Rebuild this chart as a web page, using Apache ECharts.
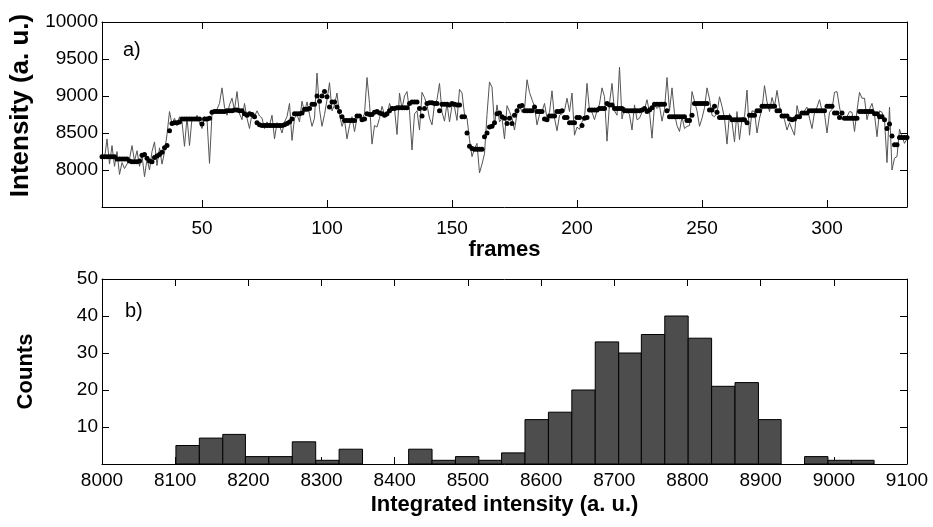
<!DOCTYPE html>
<html>
<head>
<meta charset="utf-8">
<script src="https://cdn.jsdelivr.net/npm/echarts@6/dist/echarts.min.js"></script>
<style>
    body { margin: 0; background: #fff; }
    #chart { width: 933px; height: 527px; }
</style>
</head>
<body>
<div id="chart"></div>
<script>
    // panel a) : frames 10..332
    var firstFrame = 10;
    var intensityRaw = [
        8200,8150,8420,8080,8330,8050,8250,7940,8100,8020,
        8080,8150,8330,8120,8260,8050,8200,7910,8150,8000,
        8250,8380,8060,8300,8080,8240,8480,8790,8620,8700,
        8600,8720,8650,8320,8710,8330,8700,8680,8740,8640,
        8560,8720,8680,8090,8760,8800,8820,8900,9110,8850,
        8740,8880,8970,8810,9060,8760,8680,8900,8700,8560,
        8760,8720,8800,8730,8700,8560,8650,8600,8740,8420,
        8640,8600,8500,8650,8720,8900,8400,8700,8750,8650,
        8930,8780,8920,8750,8590,8700,9310,8820,8590,8750,
        8950,9180,8800,8880,9040,8750,8590,8680,8420,8600,
        8720,8520,8700,8740,8690,8760,9250,8900,8350,8600,
        8580,8700,8860,8750,8720,8900,8800,8830,8480,9040,
        8830,9000,9060,8800,8270,8760,8800,8540,9050,8980,
        8880,8700,8610,8890,8950,9170,8780,8660,8900,8650,
        8870,8850,8670,9090,9040,8750,8700,8410,8180,8290,
        8360,7960,8080,8220,8750,9190,9120,8600,8880,8650,
        8700,8420,8870,8790,8700,8540,8760,8880,8780,8820,
        9220,9050,8950,8860,8610,8750,8790,8900,8700,8780,
        9070,8700,8530,8740,8760,8800,8970,8790,9040,8470,
        8580,8550,8650,8700,9170,8800,8780,8680,8800,8890,
        9110,8990,8390,8900,9170,8800,8740,9390,8690,8850,
        8790,8750,8540,8880,8680,8700,8780,8820,8950,8780,
        8430,8880,8830,8870,8660,8820,9250,8800,9110,8760,
        8600,8520,8720,8560,8590,8600,9060,8930,8800,8590,
        8700,8840,9110,8960,8740,8720,8770,8990,8860,8700,
        8350,8760,8650,8380,8790,8410,8700,8720,9080,8470,
        8800,8790,8500,8700,8820,9140,8920,8790,8980,8860,
        9075,8860,8750,8680,8540,8640,8550,8470,8870,8730,
        8760,8800,8850,8700,8560,8780,8850,8950,8800,8760,
        8500,8780,8820,9050,9060,8850,8680,8700,8720,8790,
        8780,8520,8800,9050,8970,8970,8680,8820,8900,8750,
        8450,8800,8780,8680,8100,8850,8000,8160,8180,8550,
        8450,8360,8420
    ];
    var intensityFit = [
        8180,8180,8180,8180,8180,8180,8150,8150,8150,8150,
        8150,8120,8110,8110,8110,8120,8200,8210,8160,8120,
        8110,8170,8190,8210,8240,8300,8330,8530,8630,8640,
        8640,8650,8690,8690,8690,8690,8690,8690,8690,8690,
        8620,8690,8690,8700,8780,8790,8790,8790,8790,8790,
        8800,8800,8800,8810,8810,8800,8800,8760,8740,8760,
        8750,8720,8640,8610,8600,8600,8600,8600,8600,8600,
        8600,8600,8600,8610,8630,8650,8690,8760,8760,8760,
        8770,8820,8820,8830,8890,8890,9000,8930,9000,9060,
        8990,8850,8920,8920,8850,8790,8720,8670,8670,8670,
        8670,8670,8730,8730,8680,8690,8760,8750,8750,8780,
        8790,8770,8760,8740,8760,8800,8830,8830,8840,8840,
        8840,8840,8840,8900,8920,8920,8920,8830,8730,8830,
        8900,8910,8910,8900,8900,8800,8890,8890,8890,8880,
        8900,8890,8880,8880,8720,8720,8500,8320,8290,8280,
        8280,8280,8280,8450,8500,8580,8590,8640,8760,8770,
        8720,8700,8630,8700,8630,8740,8800,8860,8870,8800,
        8800,8800,8800,8850,8790,8790,8790,8690,8680,8730,
        8730,8730,8790,8790,8800,8710,8710,8640,8640,8640,
        8710,8710,8600,8700,8710,8810,8810,8810,8810,8830,
        8830,8830,8900,8880,8880,8830,8830,8830,8830,8800,
        8800,8800,8800,8800,8800,8800,8810,8830,8790,8810,
        8840,8890,8890,8890,8890,8890,8800,8720,8720,8720,
        8720,8720,8720,8720,8670,8670,8740,8900,8900,8900,
        8900,8900,8900,8810,8810,8860,8780,8710,8710,8710,
        8710,8710,8680,8680,8680,8680,8680,8680,8640,8740,
        8740,8740,8800,8800,8860,8860,8860,8860,8860,8860,
        8800,8800,8730,8730,8730,8690,8680,8690,8720,8720,
        8770,8770,8770,8800,8800,8800,8800,8800,8800,8800,
        8860,8860,8860,8770,8770,8710,8770,8700,8700,8700,
        8700,8700,8700,8790,8790,8790,8790,8790,8790,8760,
        8760,8720,8720,8680,8560,8620,8460,8340,8340,8440,
        8440,8440,8440
    ];

    // panel b) : histogram, 30 bins (31 edges)
    var binEdges = [
        8101, 8133, 8165, 8196, 8228, 8260, 8292, 8324, 8356, 8387,
        8419, 8451, 8483, 8515, 8546, 8578, 8610, 8642, 8674, 8706,
        8737, 8769, 8801, 8833, 8865, 8897, 8928, 8960, 8992, 9024, 9055
    ];
    var binCounts = [
        5, 7, 8, 2, 2, 6, 1, 4, 0, 0,
        4, 1, 2, 1, 3, 12, 14, 20, 33, 30,
        35, 40, 34, 21, 22, 12, 0, 2, 1, 1
    ];

    var rawData = [], fitData = [], histData = [];
    for (var i = 0; i < intensityRaw.length; i++) {
        rawData.push([firstFrame + i, intensityRaw[i]]);
        fitData.push([firstFrame + i, intensityFit[i]]);
    }
    for (var j = 0; j < binCounts.length; j++) {
        if (binCounts[j] > 0) histData.push([binEdges[j], binEdges[j + 1], binCounts[j]]);
    }

    var font = 'Liberation Sans, Arial, sans-serif';
    var black = '#000';

    // box-style axis (ticks inside, all four sides)
    function boxAxis(extra) {
        var a = {
            type: 'value',
            axisLine: { show: true, onZero: false, lineStyle: { color: black, width: 1 } },
            axisTick: { show: true, inside: true, length: 7, lineStyle: { color: black } },
            axisLabel: { show: false },
            splitLine: { show: false }
        };
        for (var k in extra) a[k] = extra[k];
        return a;
    }
    var labelStyle = { show: true, color: black, fontSize: 19, fontFamily: font };
    var nameStyle = { color: black, fontSize: 22, fontWeight: 'bold', fontFamily: font };

    var chart = echarts.init(document.getElementById('chart'));
    chart.setOption({
        animation: false,
        backgroundColor: '#fff',
        grid: [
            { left: 102, top: 22, width: 805, height: 185 },
            { left: 102, top: 279, width: 805, height: 185 }
        ],
        xAxis: [
            boxAxis({
                gridIndex: 0, position: 'bottom', min: 10, max: 332,
                axisLabel: Object.assign({}, labelStyle, {
                    margin: 12,
                    formatter: function (v) { return v % 50 === 0 ? String(v) : ''; }
                }),
                name: 'frames', nameLocation: 'middle', nameGap: 27, nameTextStyle: nameStyle
            }),
            boxAxis({ gridIndex: 0, position: 'top', min: 10, max: 332 }),
            boxAxis({
                gridIndex: 1, position: 'bottom', min: 8000, max: 9100, interval: 100,
                axisLabel: Object.assign({}, labelStyle, {
                    margin: 7,
                    formatter: function (v) { return String(v); }
                }),
                name: 'Integrated intensity (a. u.)', nameLocation: 'middle', nameGap: 30,
                nameTextStyle: nameStyle
            }),
            boxAxis({ gridIndex: 1, position: 'top', min: 8000, max: 9100, interval: 100 })
        ],
        yAxis: [
            boxAxis({
                gridIndex: 0, position: 'left', min: 7500, max: 10000, interval: 500,
                axisLabel: Object.assign({}, labelStyle, {
                    margin: 4,
                    formatter: function (v) { return v === 7500 ? '' : String(v); }
                }),
                name: 'Intensity (a. u.)', nameLocation: 'middle', nameGap: 63,
                nameTextStyle: Object.assign({}, nameStyle, { fontSize: 26, padding: [0, 0, 0, 18] })
            }),
            boxAxis({ gridIndex: 0, position: 'right', min: 7500, max: 10000, interval: 500 }),
            boxAxis({
                gridIndex: 1, position: 'left', min: 0, max: 50, interval: 10,
                axisLabel: Object.assign({}, labelStyle, {
                    margin: 4,
                    formatter: function (v) { return v === 0 ? '' : String(v); }
                }),
                name: 'Counts', nameLocation: 'middle', nameGap: 65, nameTextStyle: nameStyle
            }),
            boxAxis({ gridIndex: 1, position: 'right', min: 0, max: 50, interval: 10 })
        ],
        graphic: [
            { type: 'text', left: 123, top: 40, style: { text: 'a)', fontSize: 20, fontFamily: font, fill: black } },
            { type: 'text', left: 125, top: 301, style: { text: 'b)', fontSize: 20, fontFamily: font, fill: black } }
        ],
        series: [
            {
                type: 'line', xAxisIndex: 0, yAxisIndex: 0, data: rawData,
                showSymbol: false, lineStyle: { color: '#555', width: 1 }, z: 2
            },
            {
                type: 'scatter', xAxisIndex: 0, yAxisIndex: 0, data: fitData,
                symbolSize: 5, itemStyle: { color: black, opacity: 1 }, z: 3
            },
            {
                type: 'custom', xAxisIndex: 2, yAxisIndex: 2, data: histData,
                renderItem: function (params, api) {
                    var p0 = api.coord([api.value(0), api.value(2)]);
                    var p1 = api.coord([api.value(1), 0]);
                    return {
                        type: 'rect',
                        shape: { x: p0[0], y: p0[1], width: p1[0] - p0[0], height: p1[1] - p0[1] },
                        style: { fill: '#4d4d4d', stroke: black, lineWidth: 1 }
                    };
                },
                encode: { x: [0, 1], y: 2 }
            }
        ]
    });
</script>
</body>
</html>
